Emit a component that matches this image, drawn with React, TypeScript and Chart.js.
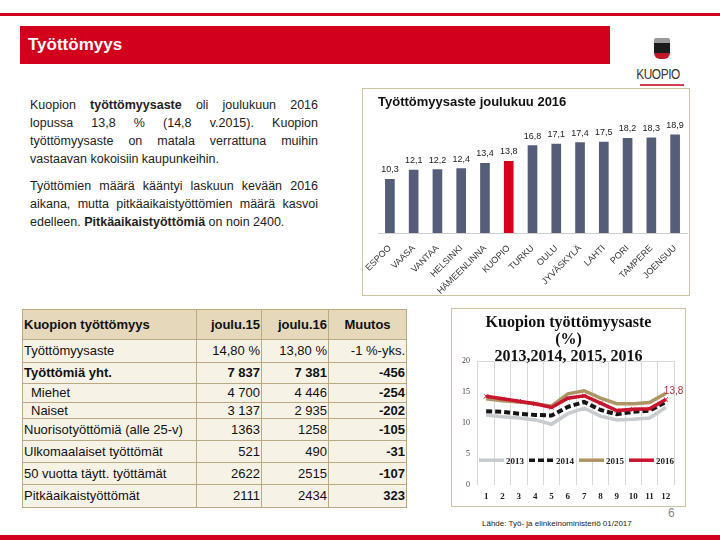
import React, { useEffect, useRef } from "react";
import { Chart, registerables } from "chart.js";

Chart.register(...registerables);

const cities = ["ESPOO", "VAASA", "VANTAA", "HELSINKI", "HÄMEENLINNA", "KUOPIO", "TURKU", "OULU", "JYVÄSKYLÄ", "LAHTI", "PORI", "TAMPERE", "JOENSUU"];
const rates2016Dec = [10.3, 12.1, 12.2, 12.4, 13.4, 13.8, 16.8, 17.1, 17.4, 17.5, 18.2, 18.3, 18.9];
const highlightCity = "KUOPIO";

const months = ["1", "2", "3", "4", "5", "6", "7", "8", "9", "10", "11", "12"];
const y2013 = [11.3, 11.0, 10.8, 10.5, 9.8, 11.5, 12.4, 11.1, 10.5, 10.6, 10.8, 12.5];
const y2014 = [11.9, 11.8, 11.5, 11.3, 11.2, 12.6, 13.4, 12.1, 11.4, 11.8, 12.0, 13.4];
const y2015 = [13.9, 13.6, 13.4, 13.1, 12.7, 14.7, 15.2, 14.0, 13.1, 13.1, 13.3, 14.8];
const y2016 = [14.3, 13.9, 13.5, 13.1, 12.5, 14.0, 14.4, 13.2, 12.0, 12.2, 12.3, 13.8];
const yTicks = [0, 5, 10, 15, 20];

const tableHeader = ["Kuopion työttömyys", "joulu.15", "joulu.16", "Muutos"];
const tableRows: { label: string; a: string; b: string; c: string; bold?: boolean; indent?: boolean; cBold?: boolean }[] = [
  { label: "Työttömyysaste", a: "14,80 %", b: "13,80 %", c: "-1 %-yks." },
  { label: "Työttömiä yht.", a: "7 837", b: "7 381", c: "-456", bold: true, cBold: true },
  { label: "Miehet", a: "4 700", b: "4 446", c: "-254", indent: true, cBold: true },
  { label: "Naiset", a: "3 137", b: "2 935", c: "-202", indent: true, cBold: true },
  { label: "Nuorisotyöttömiä (alle 25-v)", a: "1363", b: "1258", c: "-105", cBold: true },
  { label: "Ulkomaalaiset työttömät", a: "521", b: "490", c: "-31", cBold: true },
  { label: "50 vuotta täytt. työttämät", a: "2622", b: "2515", c: "-107", cBold: true },
  { label: "Pitkäaikaistyöttömät", a: "2111", b: "2434", c: "323", cBold: true },
];
const rowHeights = [30, 23, 21, 19, 16, 22, 22, 22, 23];

const SANS = '"Liberation Sans", Arial, sans-serif';
const SERIF = '"Liberation Serif", "Times New Roman", serif';
const RED = "#d3001d";

const fmt = (v: number) => v.toFixed(1).replace(".", ",");

export default function App() {
  const barRef = useRef<HTMLCanvasElement>(null);
  const lineRef = useRef<HTMLCanvasElement>(null);

  useEffect(() => {
    const barLabels = {
      id: "barLabels",
      afterDatasetsDraw(chart: any) {
        const ctx = chart.ctx;
        const meta = chart.getDatasetMeta(0);
        ctx.save();
        ctx.font = `9px ${SANS}`;
        ctx.fillStyle = "#222";
        ctx.textAlign = "center";
        ctx.textBaseline = "bottom";
        meta.data.forEach((el: any, i: number) => {
          ctx.fillText(fmt(chart.data.datasets[0].data[i]), el.x, el.y - 5);
        });
        ctx.restore();
      },
    };
    const bar = new Chart(barRef.current!, {
      type: "bar",
      data: {
        labels: cities,
        datasets: [
          {
            data: rates2016Dec,
            backgroundColor: cities.map((c) => (c === highlightCity ? "#d6001c" : "#555d78")),
            barThickness: 9,
          },
        ],
      },
      options: {
        animation: false,
        responsive: false,
        layout: { padding: { left: 15, right: 2, top: 0, bottom: 0 } },
        plugins: {
          legend: { display: false },
          tooltip: { enabled: false },
          title: {
            display: true,
            text: "Työttömyysaste joulukuu 2016",
            align: "start",
            color: "#111",
            font: { family: SANS, size: 13, weight: "bold" },
            padding: { top: 6, bottom: 8 },
          },
        },
        scales: {
          y: { display: false, min: 0, max: 22 },
          x: {
            grid: { display: false },
            border: { color: "#cfcfcf" },
            afterFit: (axis: any) => {
              axis.height = 62;
            },
            ticks: {
              autoSkip: false,
              minRotation: 45,
              maxRotation: 45,
              padding: 2,
              color: "#333",
              font: { family: SANS, size: 9 },
            },
          },
        },
      },
      plugins: [barLabels],
    } as any);

    const lineExtras = {
      id: "lineExtras",
      afterDatasetsDraw(chart: any) {
        const ctx = chart.ctx;
        const area = chart.chartArea;
        ctx.save();
        // legend inside the plot
        const ly = chart.scales.y.getPixelForValue(4);
        chart.data.datasets.forEach((ds: any, i: number) => {
          const x0 = area.left + i * 50;
          ctx.beginPath();
          ctx.strokeStyle = ds.borderColor;
          ctx.lineWidth = 3.5;
          ctx.setLineDash(ds.borderDash || []);
          ctx.moveTo(x0 + 1, ly);
          ctx.lineTo(x0 + 26, ly);
          ctx.stroke();
          ctx.setLineDash([]);
          ctx.fillStyle = "#222";
          ctx.font = `bold 9px ${SERIF}`;
          ctx.textAlign = "left";
          ctx.textBaseline = "middle";
          ctx.fillText(ds.label, x0 + 28, ly + 1);
        });
        // last value label of 2016
        const idx = chart.data.datasets.length - 1;
        const meta = chart.getDatasetMeta(idx);
        const last = meta.data[meta.data.length - 1];
        const v = chart.data.datasets[idx].data[meta.data.length - 1];
        ctx.fillStyle = "#b02a3c";
        ctx.font = `10px ${SANS}`;
        ctx.textAlign = "left";
        ctx.textBaseline = "middle";
        ctx.fillText(fmt(v), last.x - 2, last.y - 8);
        ctx.restore();
      },
    };

    const line = new Chart(lineRef.current!, {
      type: "line",
      data: {
        labels: months,
        datasets: [
          { label: "2013", data: y2013, borderColor: "#c7cccf", borderWidth: 3.5, pointRadius: 0, order: 3 },
          { label: "2014", data: y2014, borderColor: "#161616", borderWidth: 4, borderDash: [6, 3], pointRadius: 0, order: 2 },
          { label: "2015", data: y2015, borderColor: "#ad9463", borderWidth: 3.5, pointRadius: 0, order: 1 },
          {
            label: "2016",
            data: y2016,
            borderColor: "#c8142c",
            borderWidth: 3.5,
            pointStyle: "crossRot",
            pointRadius: 3,
            pointBorderWidth: 1,
            pointBorderColor: "#c8142c",
            order: 0,
          },
        ],
      },
      options: {
        animation: false,
        responsive: false,
        layout: { padding: { left: 4, right: 11, top: 52, bottom: 0 } },
        plugins: { legend: { display: false }, tooltip: { enabled: false }, title: { display: false } },
        scales: {
          x: {
            offset: true,
            grid: { offset: true, color: "#d8d8d8", drawTicks: false },
            border: { display: false },
            afterFit: (axis: any) => {
              axis.height = 21;
            },
            ticks: { padding: 6, color: "#222", font: { family: SERIF, size: 9, weight: "bold" } },
          },
          y: {
            min: 0,
            max: 20,
            afterBuildTicks: (axis: any) => {
              axis.ticks = yTicks.map((v) => ({ value: v }));
            },
            grid: {
              drawTicks: false,
              color: (c: any) => (c.tick && c.tick.value === 20 ? "#d8d8d8" : "rgba(0,0,0,0)"),
            },
            border: { display: false },
            afterFit: (axis: any) => {
              axis.width = 22;
            },
            ticks: { padding: 8, color: "#444", font: { family: SERIF, size: 8 } },
          },
        },
      },
      plugins: [lineExtras],
    } as any);

    return () => {
      bar.destroy();
      line.destroy();
    };
  }, []);

  const abs = (s: React.CSSProperties): React.CSSProperties => ({ position: "absolute", ...s });
  const line1: React.CSSProperties = { textAlign: "justify", textAlignLast: "justify", whiteSpace: "nowrap", height: 18 } as any;
  const lineL: React.CSSProperties = { textAlign: "left", whiteSpace: "nowrap", height: 18 };

  return (
    <div style={{ position: "fixed", left: 0, top: 0, width: 720, height: 540, background: "#fff", overflow: "hidden", fontFamily: SANS }}>
      {/* header */}
      <div style={abs({ left: 0, top: 13, width: 720, height: 3, background: RED })} />
      <div style={abs({ left: 20, top: 26, width: 590, height: 38, background: RED })}>
        <div style={{ color: "#fff", fontWeight: "bold", fontSize: 17, lineHeight: "38px", paddingLeft: 8 }}>Työttömyys</div>
      </div>
      {/* logo */}
      <div style={abs({ left: 654, top: 38, width: 16, height: 24 })}>
        <div style={{ height: 5, background: "#9a9a9a", borderRadius: "2px 2px 0 0" }} />
        <div style={{ height: 10, background: "#1b1b1b" }} />
        <div style={{ height: 6, background: "#c01828", borderRadius: "0 0 7px 7px" }} />
      </div>
      <div style={abs({ left: 632, top: 66, width: 52, textAlign: "center", fontSize: 14, color: "#333", letterSpacing: -0.5, transform: "scaleX(0.85)" })}>KUOPIO</div>
      <div style={abs({ left: 640, top: 84, width: 44, height: 2, background: "#d04050" })} />

      {/* paragraphs */}
      <div style={abs({ left: 30, top: 96, width: 288, fontSize: 12.5, lineHeight: "18px", color: "#222" })}>
        <div style={line1}>Kuopion <b>työttömyysaste</b> oli joulukuun 2016</div>
        <div style={line1}>lopussa 13,8 % (14,8 v.2015). Kuopion</div>
        <div style={line1}>työttömyysaste on matala verrattuna muihin</div>
        <div style={lineL}>vastaavan kokoisiin kaupunkeihin.</div>
        <div style={{ height: 9 }} />
        <div style={line1}>Työttömien määrä kääntyi laskuun kevään 2016</div>
        <div style={line1}>aikana, mutta pitkäaikaistyöttömien määrä kasvoi</div>
        <div style={lineL}>edelleen. <b>Pitkäaikaistyöttömiä</b> on noin 2400.</div>
      </div>

      {/* table */}
      <table
        style={abs({
          left: 22,
          top: 309,
          width: 384,
          borderCollapse: "collapse",
          tableLayout: "fixed",
          fontSize: 13,
          color: "#111",
        })}
      >
        <colgroup>
          <col style={{ width: 174 }} />
          <col style={{ width: 65 }} />
          <col style={{ width: 67 }} />
          <col style={{ width: 78 }} />
        </colgroup>
        <tbody>
          <tr style={{ height: rowHeights[0], background: "#e6d9bb" }}>
            {tableHeader.map((h, i) => (
              <td
                key={h}
                style={{
                  border: "1px solid #bba983",
                  fontWeight: "bold",
                  padding: "0 1px",
                  textAlign: i === 0 ? "left" : i === 3 ? "center" : "right",
                  whiteSpace: "nowrap",
                }}
              >
                {h}
              </td>
            ))}
          </tr>
          {tableRows.map((r, k) => (
            <tr key={r.label} style={{ height: rowHeights[k + 1], background: "#f7f2e6" }}>
              <td style={{ border: "1px solid #bba983", padding: r.indent ? "0 0 0 8px" : "0 1px", fontWeight: r.bold ? "bold" : "normal", whiteSpace: "nowrap", lineHeight: "14px" }}>
                {r.label}
              </td>
              <td style={{ border: "1px solid #bba983", padding: "0 1px", textAlign: "right", fontWeight: r.bold ? "bold" : "normal", lineHeight: "14px" }}>{r.a}</td>
              <td style={{ border: "1px solid #bba983", padding: "0 1px", textAlign: "right", fontWeight: r.bold ? "bold" : "normal", lineHeight: "14px" }}>{r.b}</td>
              <td style={{ border: "1px solid #bba983", padding: "0 1px", textAlign: "right", fontWeight: r.cBold ? "bold" : "normal", whiteSpace: "nowrap", lineHeight: "14px" }}>{r.c}</td>
            </tr>
          ))}
        </tbody>
      </table>

      {/* bar chart */}
      <div style={abs({ left: 362, top: 88, width: 326, height: 206, border: "1px solid #cdc2a2" })}>
        <canvas ref={barRef} width={326} height={206} style={{ display: "block" }} />
      </div>

      {/* line chart */}
      <div style={abs({ left: 451, top: 308, width: 233, height: 197, border: "1px solid #cdc2a2" })}>
        <canvas ref={lineRef} width={233} height={197} style={{ display: "block" }} />
        <div
          style={abs({
            left: 0,
            top: 4,
            width: 233,
            textAlign: "center",
            fontFamily: SERIF,
            fontWeight: "bold",
            fontSize: 16,
            lineHeight: "17px",
            color: "#111",
          })}
        >
          <div>Kuopion työttömyysaste</div>
          <div>(%)</div>
          <div>2013,2014, 2015, 2016</div>
        </div>
      </div>

      {/* footer */}
      <div style={abs({ left: 668, top: 506, fontSize: 12, color: "#888" })}>6</div>
      <div style={abs({ left: 482, top: 519, fontSize: 8, color: "#222", whiteSpace: "nowrap" })}>Lähde: Työ- ja elinkeinoministeriö 01/2017</div>
      <div style={abs({ left: 0, top: 535, width: 720, height: 5, background: RED })} />
    </div>
  );
}
